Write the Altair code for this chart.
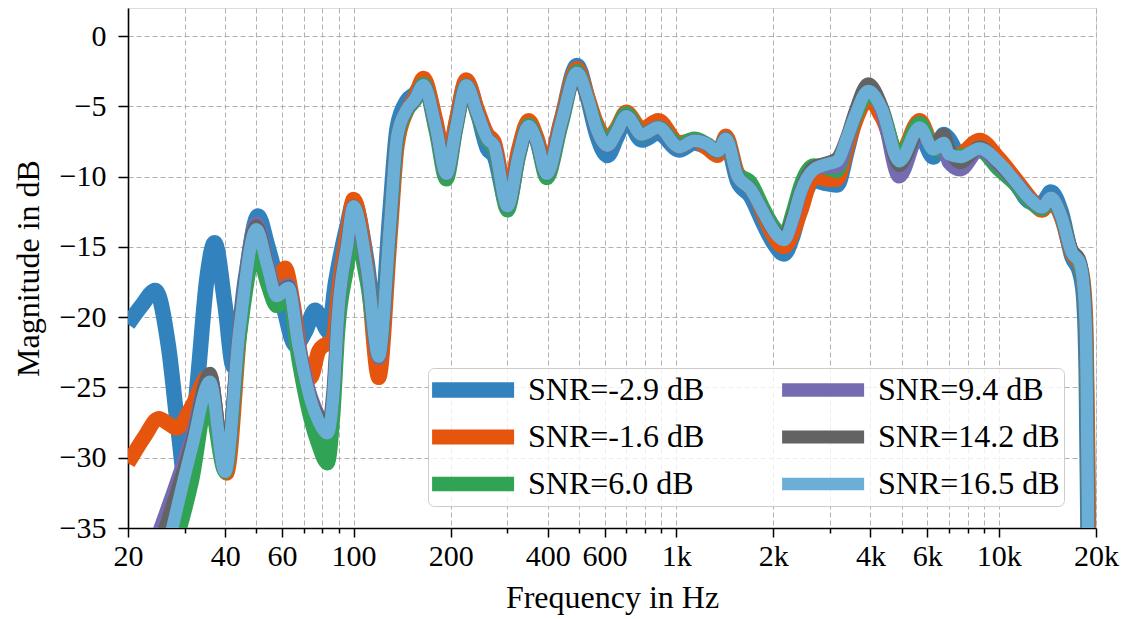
import altair as alt
import pandas as pd

LABELS = ["SNR=-2.9 dB", "SNR=-1.6 dB", "SNR=6.0 dB", "SNR=9.4 dB", "SNR=14.2 dB", "SNR=16.5 dB"]
COLORS = ["#3182bd", "#e6550d", "#31a354", "#756bb1", "#636363", "#6baed6"]
WIDTHS = [15.5, 12.5, 10.5, 8.3, 5.6, 4.2]

# low-frequency part (below 100 Hz), per series
BLUE_LF = [20, 22, 24.3, 26.7, 28.6, 30.3, 32.9, 35.1, 37.1, 40, 42.4, 46.2, 50.6, 54, 57, 61, 66, 71, 76, 80, 83.5, 88, 95.5]
BLUE_LD = [-20.5, -19.2, -18.1, -22.1, -28.0, -32.0, -24.4, -17.3, -14.7, -19.2, -23.5, -17.3, -12.8, -14.8, -16.8, -19.5, -22.0, -21.0, -19.5, -20.3, -21.0, -17.5, -13.5]

ORANGE_LF = [20, 22.5, 24.9, 26.8, 28.3, 31.6, 35.5, 40.4, 45, 50, 54, 57.5, 61.4, 65, 69, 73.7, 78, 81, 86, 90, 95.5]
ORANGE_LD = [-30.4, -28.5, -27.2, -27.6, -27.9, -26.3, -24.2, -31.1, -19.7, -14.7, -16.8, -17.6, -16.5, -19.0, -23.0, -24.3, -22.4, -22.0, -21.8, -18.0, -14.0]

GREEN_LF = [27.8, 31.6, 35.5, 40, 44.3, 50, 54, 57.8, 62.8, 67.5, 73.7, 77.6, 83.1, 86.5, 89.6, 95.5]
GREEN_LD = [-36.5, -31.6, -25.6, -31.0, -21.5, -15.2, -17.6, -19.2, -18.4, -23.0, -27.3, -29.0, -30.4, -27.0, -21.0, -16.5]

PURPLE_LF = [24.3, 31.6, 35.9, 40, 44.3, 50, 54, 57.8, 62.8, 67.5, 73.7, 77.6, 83.1, 86.5, 89.6, 95.5]
PURPLE_LD = [-36.0, -28.4, -24.1, -30.9, -20.7, -13.3, -16.0, -18.3, -17.7, -21.8, -25.6, -26.9, -27.9, -25.2, -19.6, -14.8]

GRAY_LF = [25.2, 31.6, 35.9, 40, 44.3, 50, 54, 57.8, 62.8, 67.5, 73.7, 77.6, 83.1, 86.5, 89.6, 95.5]
GRAY_LD = [-36.0, -28.8, -24.0, -30.8, -20.7, -13.5, -16.2, -18.4, -17.8, -22.0, -25.8, -27.0, -28.0, -25.4, -19.6, -14.8]

LIGHT_LF = [26.5, 31.6, 35.9, 40, 44.3, 50, 54, 57.8, 62.8, 67.5, 73.7, 77.6, 83.1, 86.5, 89.6, 95.5]
LIGHT_LD = [-36.5, -29.2, -24.6, -31.0, -20.9, -13.75, -16.3, -18.5, -17.9, -22.0, -25.9, -27.3, -28.25, -25.6, -19.7, -14.9]

# shared frequency grid from 100 Hz upwards
HI_F = [100, 110, 119.7, 129.7, 136.6, 146.5, 155, 164.6, 180, 193.9,
        208, 223.6, 242, 260, 272.6, 300, 325, 348.6, 370, 397,
        440, 493, 530, 567, 612, 655, 700, 782, 880, 1022,
        1137, 1250, 1345, 1426, 1548, 1700, 1868, 2000, 2158, 2300,
        2430, 2670, 2946, 3150, 3400, 3580, 3940, 4340, 4910, 5680,
        6270, 6750, 7000, 7600, 8720, 10000, 11300, 12500, 13600, 14500,
        15600, 16850, 17800, 18300, 18650, 18900, 19300]

BLUE_HD = [-11.8, -16.0, -22.3, -12.5, -6.5, -4.6, -4.1, -3.3, -6.3, -9.6,
           -6.2, -3.2, -5.4, -8.0, -8.5, -12.0, -8.4, -6.2, -7.4, -9.7,
           -6.0, -2.1, -4.3, -7.0, -8.5, -7.2, -5.9, -7.4, -6.9, -8.1,
           -7.6, -7.9, -8.3, -7.5, -10.3, -11.4, -13.4, -14.7, -15.5, -14.2,
           -12.2, -10.3, -10.5, -10.6, -8.0, -6.0, -4.3, -5.5, -8.8, -7.0,
           -8.6, -7.0, -7.3, -8.6, -8.1, -8.9, -10.5, -11.8, -11.9, -11.1,
           -12.5, -15.7, -16.8, -18.5, -24.0, -36.0, -55.0]

ORANGE_HD = [-11.6, -16.5, -24.3, -14.5, -7.8, -5.3, -4.3, -3.0, -6.0, -9.3,
             -6.0, -3.1, -5.2, -7.0, -7.5, -11.6, -8.0, -6.0, -7.2, -9.5,
             -6.0, -2.3, -4.2, -6.2, -7.3, -6.5, -5.4, -6.6, -6.0, -7.6,
             -7.4, -8.0, -8.5, -7.1, -9.7, -10.6, -12.8, -14.2, -15.0, -14.0,
             -12.5, -10.0, -10.2, -10.2, -7.8, -6.2, -4.5, -5.8, -8.5, -6.0,
             -7.9, -8.2, -8.6, -8.4, -7.4, -8.7, -10.2, -11.5, -12.4, -11.7,
             -12.9, -15.5, -16.3, -17.6, -21.0, -30.0, -55.0]

GREEN_HD = [-13.75, -17.5, -22.6, -13.8, -7.3, -5.3, -4.6, -3.4, -6.8, -10.2,
            -6.6, -3.5, -5.6, -7.4, -8.0, -12.4, -8.6, -6.3, -7.5, -10.1,
            -6.4, -2.5, -4.4, -6.4, -7.6, -6.6, -5.5, -7.0, -6.5, -7.7,
            -7.3, -7.7, -8.2, -7.3, -9.8, -10.4, -12.3, -13.5, -14.2, -12.5,
            -10.6, -9.2, -9.4, -9.6, -7.3, -5.8, -4.1, -5.2, -8.7, -6.2,
            -8.0, -8.2, -8.5, -8.5, -8.2, -9.5, -10.6, -11.8, -12.3, -11.6,
            -12.8, -15.4, -16.2, -17.8, -22.0, -35.0, -55.0]

PURPLE_HD = [-12.2, -16.6, -22.9, -13.6, -7.1, -5.2, -4.5, -3.5, -6.5, -9.8,
             -6.5, -3.5, -5.5, -7.3, -7.8, -12.1, -8.5, -6.4, -7.5, -9.8,
             -6.2, -2.6, -4.4, -6.6, -7.8, -6.8, -5.7, -7.0, -6.5, -7.9,
             -7.45, -7.7, -8.2, -7.3, -9.95, -10.9, -12.6, -13.8, -14.4, -13.0,
             -11.1, -9.4, -9.3, -9.3, -7.3, -5.6, -3.5, -5.3, -10.0, -7.0,
             -7.8, -8.0, -9.0, -9.5, -8.1, -9.2, -10.4, -11.6, -12.2, -11.5,
             -12.8, -15.4, -16.1, -17.8, -22.0, -35.0, -55.0]

GRAY_HD = [-12.1, -16.5, -22.8, -13.5, -7.1, -5.2, -4.5, -3.5, -6.5, -9.8,
           -6.5, -3.5, -5.5, -7.3, -7.8, -12.1, -8.5, -6.4, -7.5, -9.8,
           -6.2, -2.6, -4.4, -6.6, -7.8, -6.8, -5.7, -7.0, -6.5, -7.9,
           -7.45, -7.7, -8.2, -7.3, -9.95, -10.9, -12.6, -13.8, -14.2, -12.8,
           -11.0, -9.3, -9.0, -8.7, -7.0, -5.4, -3.4, -5.0, -9.2, -6.8,
           -7.7, -7.0, -8.0, -9.0, -7.9, -9.1, -10.4, -11.6, -12.2, -11.5,
           -12.8, -15.2, -15.9, -17.6, -22.0, -35.0, -55.0]

LIGHT_HD = [-12.1, -16.5, -22.8, -13.5, -7.1, -5.2, -4.5, -3.5, -6.5, -9.8,
            -6.5, -3.5, -5.5, -7.3, -7.8, -12.1, -8.5, -6.4, -7.5, -9.8,
            -6.2, -2.6, -4.3, -6.6, -7.8, -6.8, -5.7, -7.0, -6.5, -7.9,
            -7.45, -7.7, -8.2, -7.3, -9.95, -10.9, -12.6, -13.8, -14.5, -13.0,
            -11.1, -9.5, -9.1, -8.9, -7.1, -5.7, -3.9, -5.2, -8.9, -6.5,
            -8.05, -7.6, -8.4, -8.6, -8.0, -9.0, -10.4, -11.6, -12.2, -11.5,
            -12.8, -15.4, -16.1, -17.8, -22.0, -35.0, -55.0]

X_MAJOR = [20, 40, 60, 100, 200, 400, 600, 1000, 2000, 4000, 6000, 10000, 20000]
X_GRID = [20, 30, 40, 50, 60, 70, 80, 90,
          100, 200, 300, 400, 500, 600, 700, 800, 900,
          1000, 2000, 3000, 4000, 5000, 6000, 7000, 8000, 9000,
          10000, 20000]
Y_TICKS = [-35, -30, -25, -20, -15, -10, -5, 0]

series = [
    (LABELS[0], BLUE_LF, BLUE_LD, BLUE_HD),
    (LABELS[1], ORANGE_LF, ORANGE_LD, ORANGE_HD),
    (LABELS[2], GREEN_LF, GREEN_LD, GREEN_HD),
    (LABELS[3], PURPLE_LF, PURPLE_LD, PURPLE_HD),
    (LABELS[4], GRAY_LF, GRAY_LD, GRAY_HD),
    (LABELS[5], LIGHT_LF, LIGHT_LD, LIGHT_HD),
]

rows = []
for order, (lab, lf, ld, hd) in enumerate(series):
    for f, v in zip(list(lf) + HI_F, list(ld) + hd):
        rows.append({"f": f, "db": v, "series": lab, "o": order})
df = pd.DataFrame(rows)

FONT = "Liberation Serif"
major_list = "[" + ",".join(str(v) for v in X_MAJOR) + "]"
is_major = f"indexof({major_list}, datum.value) >= 0"

x_axis = alt.Axis(
    values=X_GRID,
    labelExpr=f"{is_major} ? (datum.value >= 1000 ? (datum.value/1000) + 'k' : '' + datum.value) : ''",
    tickSize={"condition": {"test": is_major, "value": 9}, "value": 5},
    labelOverlap=False, labelFlush=False,
    grid=True, gridDash=[5, 3], gridColor="#b0b0b0", gridWidth=1,
    labelFont=FONT, labelFontSize=30, labelColor="black", labelPadding=4,
    tickColor="black", tickWidth=1.5, domainColor="black", domainWidth=1.6,
    title="Frequency in Hz", titleFont=FONT, titleFontSize=32, titleFontWeight="normal",
    titleColor="black", titlePadding=11,
)
y_axis = alt.Axis(
    values=Y_TICKS,
    labelExpr="datum.value < 0 ? '\u2212' + abs(datum.value) : '' + datum.value",
    grid=True, gridDash=[5, 3], gridColor="#b0b0b0", gridWidth=1,
    labelFont=FONT, labelFontSize=30, labelColor="black", labelPadding=12,
    tickSize=10, tickColor="black", tickWidth=1.5, domainColor="black", domainWidth=1.6,
    title="Magnitude in dB", titleFont=FONT, titleFontSize=32, titleFontWeight="normal",
    titleColor="black", titlePadding=14,
)

legend = alt.Legend(
    orient="none", legendX=300, legendY=360, columns=2, title=None,
    symbolType="M-1,0H4", symbolSize=1076, symbolOffset=-8,
    labelFont=FONT, labelFontSize=32,
    labelColor="black", labelLimit=500, labelOffset=55,
    fillColor="rgba(255,255,255,0.8)", strokeColor="#cccccc",
    cornerRadius=6, padding=4, clipHeight=36, rowPadding=11, columnPadding=77,
)

chart = alt.Chart(df).mark_line(interpolate="monotone", clip=True, strokeCap="butt", strokeJoin="round").encode(
    x=alt.X("f:Q", scale=alt.Scale(type="log", domain=[20, 20000], nice=False), axis=x_axis),
    y=alt.Y("db:Q", scale=alt.Scale(domain=[-35, 2], nice=False, zero=False), axis=y_axis),
    color=alt.Color("series:N", scale=alt.Scale(domain=LABELS, range=COLORS), legend=legend),
    strokeWidth=alt.StrokeWidth("series:N", scale=alt.Scale(domain=LABELS, range=WIDTHS), legend=legend),
    order=alt.Order("o:Q"),
).properties(
    width=968, height=520,
    autosize=alt.AutoSizeParams(type="none"),
    padding={"left": 128, "top": 8, "right": 33, "bottom": 91},
).configure_view(stroke="black", strokeWidth=1.6).configure(background="white")

chart.save("out.html", embed_options={"renderer": "svg", "actions": False})
